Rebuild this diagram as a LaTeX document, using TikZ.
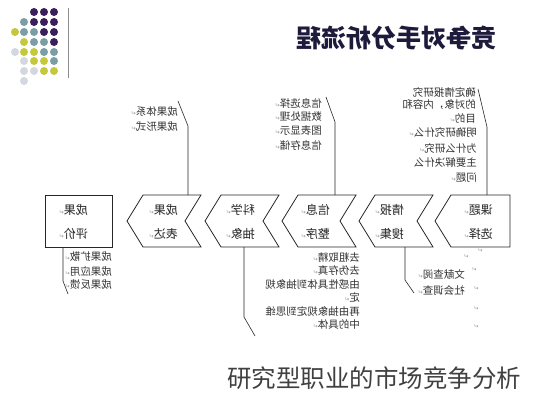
\documentclass[tikz,border=0pt]{standalone}
\usepackage{fontspec}
\newfontfamily\cjk{Noto Sans CJK SC}
\newfontfamily\sym{DejaVu Sans}
\newcommand\rt{{\sym\fontsize{6}{6}\selectfont\color{black!40}↵}}
\newcommand\mir[1]{\reflectbox{#1}}
\definecolor{dpurple}{HTML}{3B1E5C}
\definecolor{dteal}{HTML}{7B9EA6}
\definecolor{dyellow}{HTML}{C5C83A}
\definecolor{dlgray}{HTML}{D3D7E0}
\definecolor{titlecol}{HTML}{1E1A3C}
\tikzset{
 shapebox/.style={draw=black!85, line width=0.8pt, fill=white},
 lbl/.style={font=\cjk\fontsize{12}{12}\selectfont, text=black!85, inner sep=0pt, anchor=east},
 sml/.style={font=\cjk\fontsize{10.5}{10.5}\selectfont, text=black!80, inner sep=0pt, anchor=east},
 lead/.style={draw=black!85, line width=0.6pt},
 dotc/.style={circle, inner sep=0pt, minimum size=8pt},
 pmark/.style={inner sep=0pt},
}
\begin{document}
\begin{tikzpicture}[x=1pt,y=-1pt]
\useasboundingbox (0,0) rectangle (533,400);
% logo
\foreach \xx/\yy/\cc [count=\i] in {34/12/dpurple,44/12/dpurple,54/12/dpurple,
 24/22/dteal,34/22/dpurple,44/22/dpurple,54/22/dpurple,
 15/32/dyellow,24/32/dteal,34/32/dteal,44/32/dpurple,54/32/dpurple,
 24/42/dyellow,34/42/dteal,44/42/dteal,54/42/dpurple,
 15/52/dlgray,24/52/dyellow,34/52/dyellow,44/52/dteal,54/52/dteal,
 24/61/dlgray,34/61/dyellow,44/61/dyellow,54/61/dteal,
 24/71/dlgray,34/71/dlgray,44/71/dyellow,54/71/dyellow,
 24/81/dlgray}
 \node[dotc, fill=\cc] (d\i) at (\xx,\yy) {};
\coordinate (lgA) at (68,8); \coordinate (lgB) at (68,78);
\draw[black!45, line width=0.8pt] (lgA) -- (lgB);
% title
\node[font=\cjk\bfseries\fontsize{25}{25}\selectfont, text=titlecol, inner sep=0pt] (title) at (396,38) {\mir{竞争对手分析流程}};
% caption
\node[font=\cjk\fontsize{24.5}{25}\selectfont, text=black!75, inner sep=0pt] (caption) at (374,378) {研究型职业的市场竞争分析};
% boxes
\draw[shapebox] (45,195) rectangle (112,247);
\foreach \L in {127,205,282,359}
 \draw[shapebox] (\L,221) -- (\L+16,195) -- (\L+74,195) -- (\L+58,221) -- (\L+74,247) -- (\L+16,247) -- cycle;
\draw[shapebox] (435,221) -- (451,195) -- (510,195) -- (510,247) -- (451,247) -- cycle;
% box texts
\node[lbl] (r1) at (88,210) {\mir{成果\rt}};
\node[lbl] (r2) at (88,234) {\mir{评价\rt}};
\node[lbl] (a1) at (178,210) {\mir{成果\rt}};
\node[lbl] (a2) at (178,234) {\mir{表达\rt}};
\node[lbl] (b1) at (255,210) {\mir{科学\rt}};
\node[lbl] (b2) at (255,234) {\mir{抽象\rt}};
\node[lbl] (c1) at (330,210) {\mir{信息\rt}};
\node[lbl] (c2) at (330,234) {\mir{整序\rt}};
\node[lbl] (e1) at (404,210) {\mir{情报\rt}};
\node[lbl] (e2) at (404,234) {\mir{搜集\rt}};
\node[lbl] (f1) at (493,210) {\mir{课题\rt}};
\node[lbl] (f2) at (493,234) {\mir{选择\rt}};
% upper-left callout
\node[sml] (ua1) at (178,112) {\mir{成果体系\rt}};
\node[sml] (ua2) at (178,127) {\mir{成果形式\rt}};
\coordinate (ua0) at (188,195); \coordinate (uab) at (188,126); \coordinate (uat) at (178,101);
\draw[lead] (ua0) -- (uab) -- (uat);
% upper-middle callout
\node[sml] (uc1) at (322,103) {\mir{信息选择\rt}};
\node[sml] (uc2) at (322,117) {\mir{数据处理\rt}};
\node[sml] (uc3) at (322,131) {\mir{图表显示\rt}};
\node[sml] (uc4) at (322,145) {\mir{信息存储\rt}};
\coordinate (uc0) at (335,195); \coordinate (ucb) at (335,122); \coordinate (uct) at (326,97);
\draw[lead] (uc0) -- (ucb) -- (uct);
% upper-right callout
\node[sml] (uf1) at (476,92) {\mir{确定情报研究}};
\node[sml] (uf2) at (476,105) {\mir{的对象，内容和}};
\node[sml] (uf3) at (476,118) {\mir{目的\rt}};
\node[sml] (uf4) at (477,133) {\mir{明确研究什么\rt}};
\node[sml] (uf5) at (477,148) {\mir{为什么研究\rt}};
\node[sml] (uf6) at (477,163) {\mir{主要解决什么}};
\node[sml] (uf7) at (477,178) {\mir{问题\rt}};
\coordinate (uf0) at (487,195); \coordinate (ufb) at (487,127); \coordinate (uft) at (478,89);
\draw[lead] (uf0) -- (ufb) -- (uft);
% lower-left callout
\node[sml] (lr1) at (112,257) {\mir{成果扩散\rt}};
\node[sml] (lr2) at (112,271) {\mir{成果应用\rt}};
\node[sml] (lr3) at (112,285) {\mir{成果反馈\rt}};
\coordinate (lr0) at (63,247); \coordinate (lrb) at (63,281); \coordinate (lrt) at (68,294);
\draw[lead] (lr0) -- (lrb) -- (lrt);
% lower-middle callout
\node[sml] (lb1) at (360,257) {\mir{去粗取精\rt}};
\node[sml] (lb2) at (360,270) {\mir{去伪存真\rt}};
\node[sml] (lb3) at (360,284) {\mir{由感性具体到抽象规}};
\node[sml] (lb4) at (360,297) {\mir{定\rt}};
\node[sml] (lb5) at (360,311) {\mir{再由抽象规定到思维}};
\node[sml] (lb6) at (360,324) {\mir{中的具体\rt}};
\coordinate (lb0) at (244,247); \coordinate (lbb) at (244,317); \coordinate (lbt) at (255,336);
\draw[lead] (lb0) -- (lbb) -- (lbt);
% lower-right callout
\node[sml] (le1) at (465,274) {\mir{文献查阅\rt}};
\node[sml] (le2) at (465,290) {\mir{社会调查\rt}};
\coordinate (le0) at (405,247); \coordinate (leb) at (405,280); \coordinate (let) at (414,293);
\draw[lead] (le0) -- (leb) -- (let);
% stray paragraph marks
\foreach \xx/\yy [count=\i] in {480/251,466/257,474/270,476/289,476/309,476/327}
 \node[pmark] (pm\i) at (\xx,\yy) {\mir{\rt}};
\end{tikzpicture}
\end{document}
